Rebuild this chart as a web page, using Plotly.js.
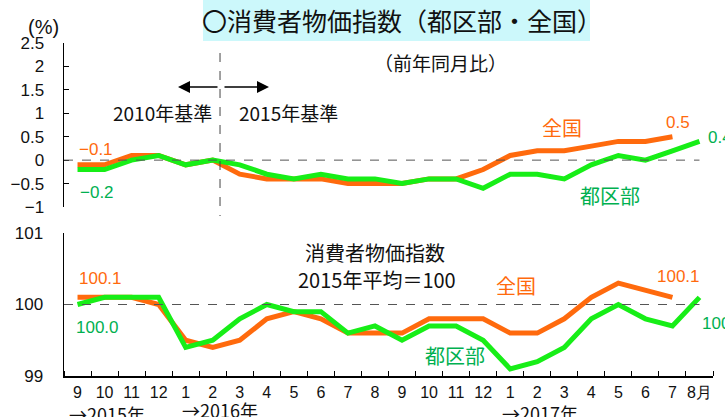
<!DOCTYPE html>
<html>
<head>
<meta charset="utf-8">
<script src="https://cdn.plot.ly/plotly-3.0.1.min.js"></script>
<style>html,body{margin:0;padding:0;background:#fff;}#chart{width:725px;height:417px;}</style>
</head>
<body>
<div id="chart"></div>
<script>
// Month labels (2015年9月 – 2017年8月)
const months = ['9','10','11','12','1','2','3','4','5','6','7','8','9','10','11','12','1','2','3','4','5','6','7','8月'];
// 前年同月比 (%)
const yoyZenkoku = [-0.1,-0.1,0.1,0.1,-0.1,0.0,-0.3,-0.4,-0.4,-0.4,-0.5,-0.5,-0.5,-0.4,-0.4,-0.2,0.1,0.2,0.2,0.3,0.4,0.4,0.5];
const yoyKubu    = [-0.2,-0.2,0.0,0.1,-0.1,0.0,-0.1,-0.3,-0.4,-0.3,-0.4,-0.4,-0.5,-0.4,-0.4,-0.6,-0.3,-0.3,-0.4,-0.1,0.1,0.0,0.2,0.4];
// 消費者物価指数 (2015年平均=100)
const idxZenkoku = [100.1,100.1,100.1,100.0,99.5,99.4,99.5,99.8,99.9,99.8,99.6,99.6,99.6,99.8,99.8,99.8,99.6,99.6,99.8,100.1,100.3,100.2,100.1];
const idxKubu    = [100.0,100.1,100.1,100.1,99.4,99.5,99.8,100.0,99.9,99.9,99.6,99.7,99.5,99.7,99.7,99.5,99.1,99.2,99.4,99.8,100.0,99.8,99.7,100.1];
const yoyTicks = [-1,-0.5,0,0.5,1,1.5,2,2.5];
const idxTicks = [99,100,101];

const ORANGE = '#ff6a0d';
const GREEN_LINE = '#17ee17';
const GREEN_TEXT = '#00b050';
const W = 725, H = 417;
const px = x => x / W;
const py = y => 1 - y / H;
const JP = '"Noto Sans CJK JP", "Liberation Sans", sans-serif';
const NUM = '"Liberation Sans Narrow", "Liberation Sans", sans-serif';
const LAT = '"Liberation Sans", sans-serif';

const idx = a => a.map((_, i) => i);
const lineStyle = c => ({color: c, width: 5});

const traces = [
  {x: idx(yoyZenkoku), y: yoyZenkoku, xaxis: 'x2', yaxis: 'y2', mode: 'lines', line: lineStyle(ORANGE), hoverinfo: 'skip'},
  {x: idx(yoyKubu), y: yoyKubu, xaxis: 'x2', yaxis: 'y2', mode: 'lines', line: lineStyle(GREEN_LINE), hoverinfo: 'skip'},
  {x: idx(idxZenkoku), y: idxZenkoku, xaxis: 'x', yaxis: 'y', mode: 'lines', line: lineStyle(ORANGE), hoverinfo: 'skip'},
  {x: idx(idxKubu), y: idxKubu, xaxis: 'x', yaxis: 'y', mode: 'lines', line: lineStyle(GREEN_LINE), hoverinfo: 'skip'}
];

const n = months.length;
const xRange = [-0.5, n - 0.5];
const xDom = [px(64), px(713)];
const boundaries = Array.from({length: n + 1}, (_, i) => i - 0.5);

function ann(text, x, y, size, color, family, opts) {
  return Object.assign({text: text, x: px(x), y: py(y), xref: 'paper', yref: 'paper',
    showarrow: false, xanchor: 'center', yanchor: 'middle',
    font: {family: family || JP, size: size, color: color || '#111'}}, opts || {});
}

const annotations = [
  ann('〇消費者物価指数（都区部・全国）', 402, 20, 25, '#111'),
  ann('(%)', 43, 27, 20, '#111', LAT),
  ann('（前年同月比）', 440, 63, 19, '#111'),
  ann('2010年基準', 162, 112, 19, '#111'),
  ann('2015年基準', 288, 113, 19, '#111'),
  ann('−0.1', 96, 149, 17, ORANGE, LAT),
  ann('−0.2', 97, 192, 17, GREEN_TEXT, LAT),
  ann('全国', 562, 128, 20, ORANGE),
  ann('都区部', 610, 195, 20, GREEN_TEXT),
  ann('0.5', 678, 123, 17, ORANGE, LAT),
  ann('0.4', 706, 138, 17, GREEN_TEXT, LAT, {xanchor: 'left'}),
  ann('100.1', 101, 278, 17, ORANGE, LAT),
  ann('100.0', 98, 327, 17, GREEN_TEXT, LAT),
  ann('消費者物価指数', 375, 252, 20, '#111'),
  ann('2015年平均＝100', 377, 279, 20, '#111'),
  ann('全国', 516, 285, 20, ORANGE),
  ann('都区部', 455, 355, 20, GREEN_TEXT),
  ann('100.1', 678, 276, 17, ORANGE, LAT),
  ann('100.1', 700, 323, 17, GREEN_TEXT, LAT, {xanchor: 'left'}),
  ann('→2015年', 107, 414, 18, '#111'),
  ann('→2016年', 220, 410, 18, '#111'),
  ann('→2017年', 540, 413, 18, '#111'),
  // arrows
  {x: px(178), y: py(87), ax: px(219), ay: py(87), xref: 'paper', yref: 'paper', axref: 'paper', ayref: 'paper',
   text: '', showarrow: true, arrowhead: 2, arrowsize: 1.6, arrowwidth: 1.5, arrowcolor: '#000'},
  {x: px(269), y: py(87), ax: px(223), ay: py(87), xref: 'paper', yref: 'paper', axref: 'paper', ayref: 'paper',
   text: '', showarrow: true, arrowhead: 2, arrowsize: 1.6, arrowwidth: 1.5, arrowcolor: '#000'}
];

const shapes = [
  {type: 'rect', xref: 'paper', yref: 'paper', x0: px(203), x1: px(590), y0: py(0), y1: py(41),
   fillcolor: '#ccf8fb', line: {width: 0}, layer: 'below'},
  {type: 'line', xref: 'x2', yref: 'y2', x0: -0.5, x1: n - 1, y0: 0, y1: 0, line: {color: '#555', width: 1, dash: 'dash'}},
  {type: 'line', xref: 'x', yref: 'y', x0: -0.5, x1: n - 1, y0: 100, y1: 100, line: {color: '#555', width: 1, dash: 'dash'}},
  {type: 'line', xref: 'x2', yref: 'paper', x0: 5.27, x1: 5.27, y0: py(53), y1: py(216), line: {color: '#444', width: 1, dash: 'dash'}}
];

const layout = {
  width: W, height: H,
  margin: {l: 0, r: 0, t: 0, b: 0},
  paper_bgcolor: '#fff', plot_bgcolor: 'rgba(0,0,0,0)',
  showlegend: false,
  font: {family: JP, color: '#111'},
  xaxis: {domain: xDom, range: xRange, anchor: 'y', showgrid: false, zeroline: false,
    showline: true, linecolor: '#000', linewidth: 1.5,
    tickmode: 'array', tickvals: idx(months), ticktext: months, ticks: '',
    tickfont: {family: NUM, size: 16, color: '#111'}, ticklabelstandoff: 1,
    minor: {tickmode: 'array', tickvals: boundaries, ticks: 'inside', ticklen: 5, tickcolor: '#000', tickwidth: 1, showgrid: false}},
  yaxis: {domain: [py(376), py(233)], range: [99, 101], anchor: 'x', showgrid: false, zeroline: false,
    showline: true, linecolor: '#000', linewidth: 1.5,
    tickmode: 'array', tickvals: idxTicks, ticks: 'inside', ticklen: 5, tickcolor: '#000',
    tickfont: {family: LAT, size: 17, color: '#111'}, ticklabelstandoff: 16},
  xaxis2: {domain: xDom, range: xRange, anchor: 'y2', showgrid: false, zeroline: false,
    showline: false, showticklabels: false, ticks: ''},
  yaxis2: {domain: [py(207), py(43)], range: [-1, 2.5], anchor: 'x2', showgrid: false, zeroline: false,
    showline: true, linecolor: '#000', linewidth: 1.5,
    tickmode: 'array', tickvals: yoyTicks, ticks: 'inside', ticklen: 5, tickcolor: '#000',
    tickfont: {family: LAT, size: 17, color: '#111'}, ticklabelstandoff: 15},
  annotations: annotations,
  shapes: shapes
};

Plotly.newPlot('chart', traces, layout, {staticPlot: true, displayModeBar: false});
</script>
</body>
</html>
